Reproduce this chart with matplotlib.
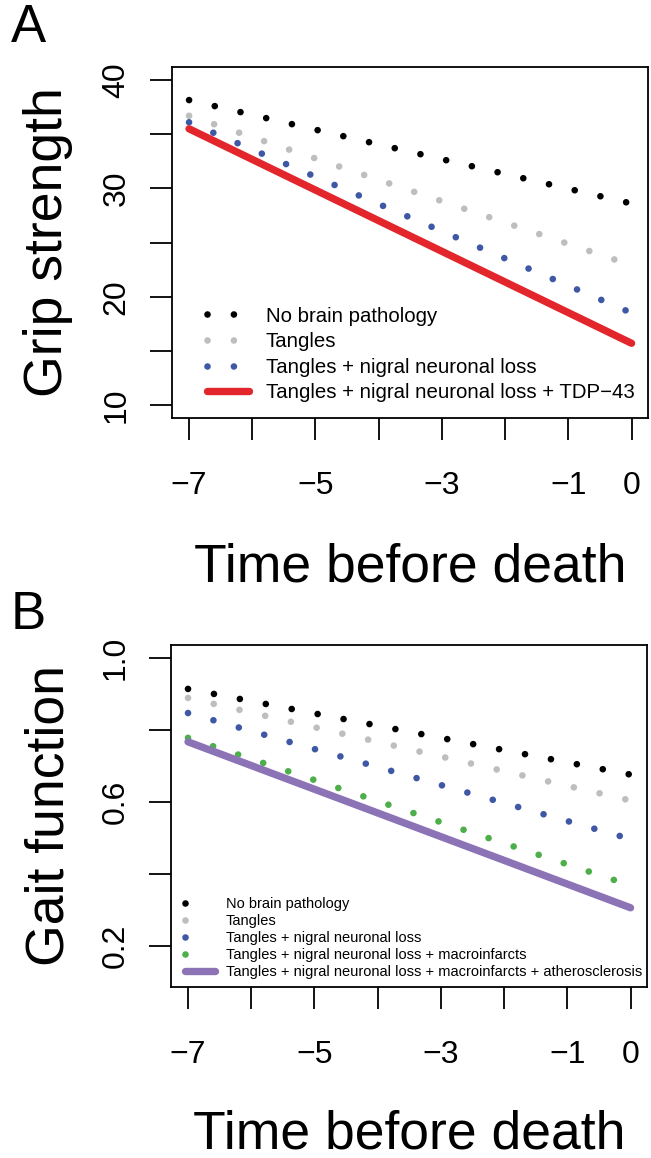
import matplotlib
matplotlib.use('Agg')
import matplotlib.pyplot as plt
from matplotlib.lines import Line2D

plt.rcParams['font.family'] = ['Liberation Sans', 'DejaVu Sans']
plt.rcParams['lines.scale_dashes'] = False

# years before death, start and end of every fitted trajectory
time_span = [-7, 0]
x_ticks = [-7, -6, -5, -4, -3, -2, -1, 0]
x_ticklabels = ['\u22127', '', '\u22125', '', '\u22123', '', '\u22121', '0']

# panel A: grip strength
grip_labels = ['No brain pathology', 'Tangles', 'Tangles + nigral neuronal loss',
               'Tangles + nigral neuronal loss + TDP\u221243']
grip_start = [38.15, 36.7, 36.1, 35.5]
grip_end = [28.6, 22.9, 18.5, 15.7]
grip_colors = ['black', '#BEBEBE', '#3F58A5', '#E3262B']
grip_ticks = [10, 15, 20, 25, 30, 35, 40]
grip_ticklabels = ['10', '', '20', '', '30', '', '40']

# panel B: gait function
gait_labels = ['No brain pathology', 'Tangles', 'Tangles + nigral neuronal loss',
               'Tangles + nigral neuronal loss + macroinfarcts',
               'Tangles + nigral neuronal loss + macroinfarcts + atherosclerosis']
gait_start = [0.914, 0.889, 0.847, 0.778, 0.767]
gait_end = [0.676, 0.604, 0.497, 0.368, 0.306]
gait_colors = ['black', '#BEBEBE', '#3F58A5', '#4DAF4A', '#8C73B5']
gait_ticks = [0.2, 0.4, 0.6, 0.8, 1.0]
gait_ticklabels = ['0.2', '', '0.6', '', '1.0']

DOT = (0, (0.01, 19.0))


def draw_panel(ax, start, end, colors, labels):
    lines = []
    for i in range(len(start)):
        if i == len(start) - 1:
            l, = ax.plot(time_span, [start[i], end[i]], color=colors[i], lw=5.3,
                         solid_capstyle='round', label=labels[i])
        else:
            l, = ax.plot(time_span, [start[i], end[i]], color=colors[i], lw=4.8,
                         linestyle=DOT, dash_capstyle='round', label=labels[i])
        lines.append(l)
    ax.set_xlim(-7.27, 0.26)
    ax.set_xticks(x_ticks)
    ax.set_xticklabels(x_ticklabels)
    ax.tick_params(length=16, width=1.3, labelsize=23, direction='out')
    ax.tick_params(axis='x', pad=22)
    ax.tick_params(axis='y', pad=13, labelrotation=90)
    for s in ax.spines.values():
        s.set_linewidth(1.3)
    return lines


fig = plt.figure(figsize=(6.51, 11.58), dpi=100)

# ---- A ----
axA = fig.add_axes([0.2642, 0.6390, 0.7312, 0.3031])
linesA = draw_panel(axA, grip_start, grip_end, grip_colors, grip_labels)
axA.set_ylim(8.8, 41.2)
axA.set_yticks(grip_ticks)
axA.set_yticklabels(grip_ticklabels)
for t in axA.get_yticklabels():
    t.set_va('center')
axA.set_xlabel('Time before death', fontsize=38.5, va='center')
axA.xaxis.set_label_coords(0.5, -0.425)
axA.set_ylabel('Grip strength', fontsize=38.5, va='center')
axA.yaxis.set_label_coords(-0.26, 0.5)
axA.legend(handles=linesA, loc='lower left', bbox_to_anchor=(0.073, 0.045),
           frameon=False, fontsize=14.7, handlelength=2.05, handletextpad=0.83,
           labelspacing=0.32, borderpad=0, borderaxespad=0, numpoints=1)
fig.text(28 / 651, 1 - 42 / 1158, 'A', fontsize=38, ha='center', va='baseline')

# ---- B ----
axB = fig.add_axes([0.2626, 0.1477, 0.7312, 0.2953])
linesB = draw_panel(axB, gait_start, gait_end, gait_colors, gait_labels)
axB.set_ylim(0.086, 1.036)
axB.set_yticks(gait_ticks)
axB.set_yticklabels(gait_ticklabels)
for t in axB.get_yticklabels():
    t.set_va('center')
axB.set_xlabel('Time before death', fontsize=38.5, va='center')
axB.xaxis.set_label_coords(0.5, -0.43)
axB.set_ylabel('Gait function', fontsize=38.5, va='center')
axB.yaxis.set_label_coords(-0.255, 0.5)
handlesB = []
for i in range(len(gait_labels)):
    if i == len(gait_labels) - 1:
        handlesB.append(Line2D([], [], color=gait_colors[i], lw=5.3, solid_capstyle='round'))
    else:
        handlesB.append(Line2D([], [], color=gait_colors[i], lw=4.8, linestyle=(0, (0.01, 60)),
                               dash_capstyle='round'))
axB.legend(handles=handlesB, labels=gait_labels, loc='lower left',
           bbox_to_anchor=(0.029, 0.022), frameon=False, fontsize=10.5,
           handlelength=2.05, handletextpad=0.75, labelspacing=0.21,
           borderpad=0, borderaxespad=0, numpoints=1)
fig.text(28 / 651, 1 - 629 / 1158, 'B', fontsize=38, ha='center', va='baseline')

fig.savefig('out.png', dpi=100)
